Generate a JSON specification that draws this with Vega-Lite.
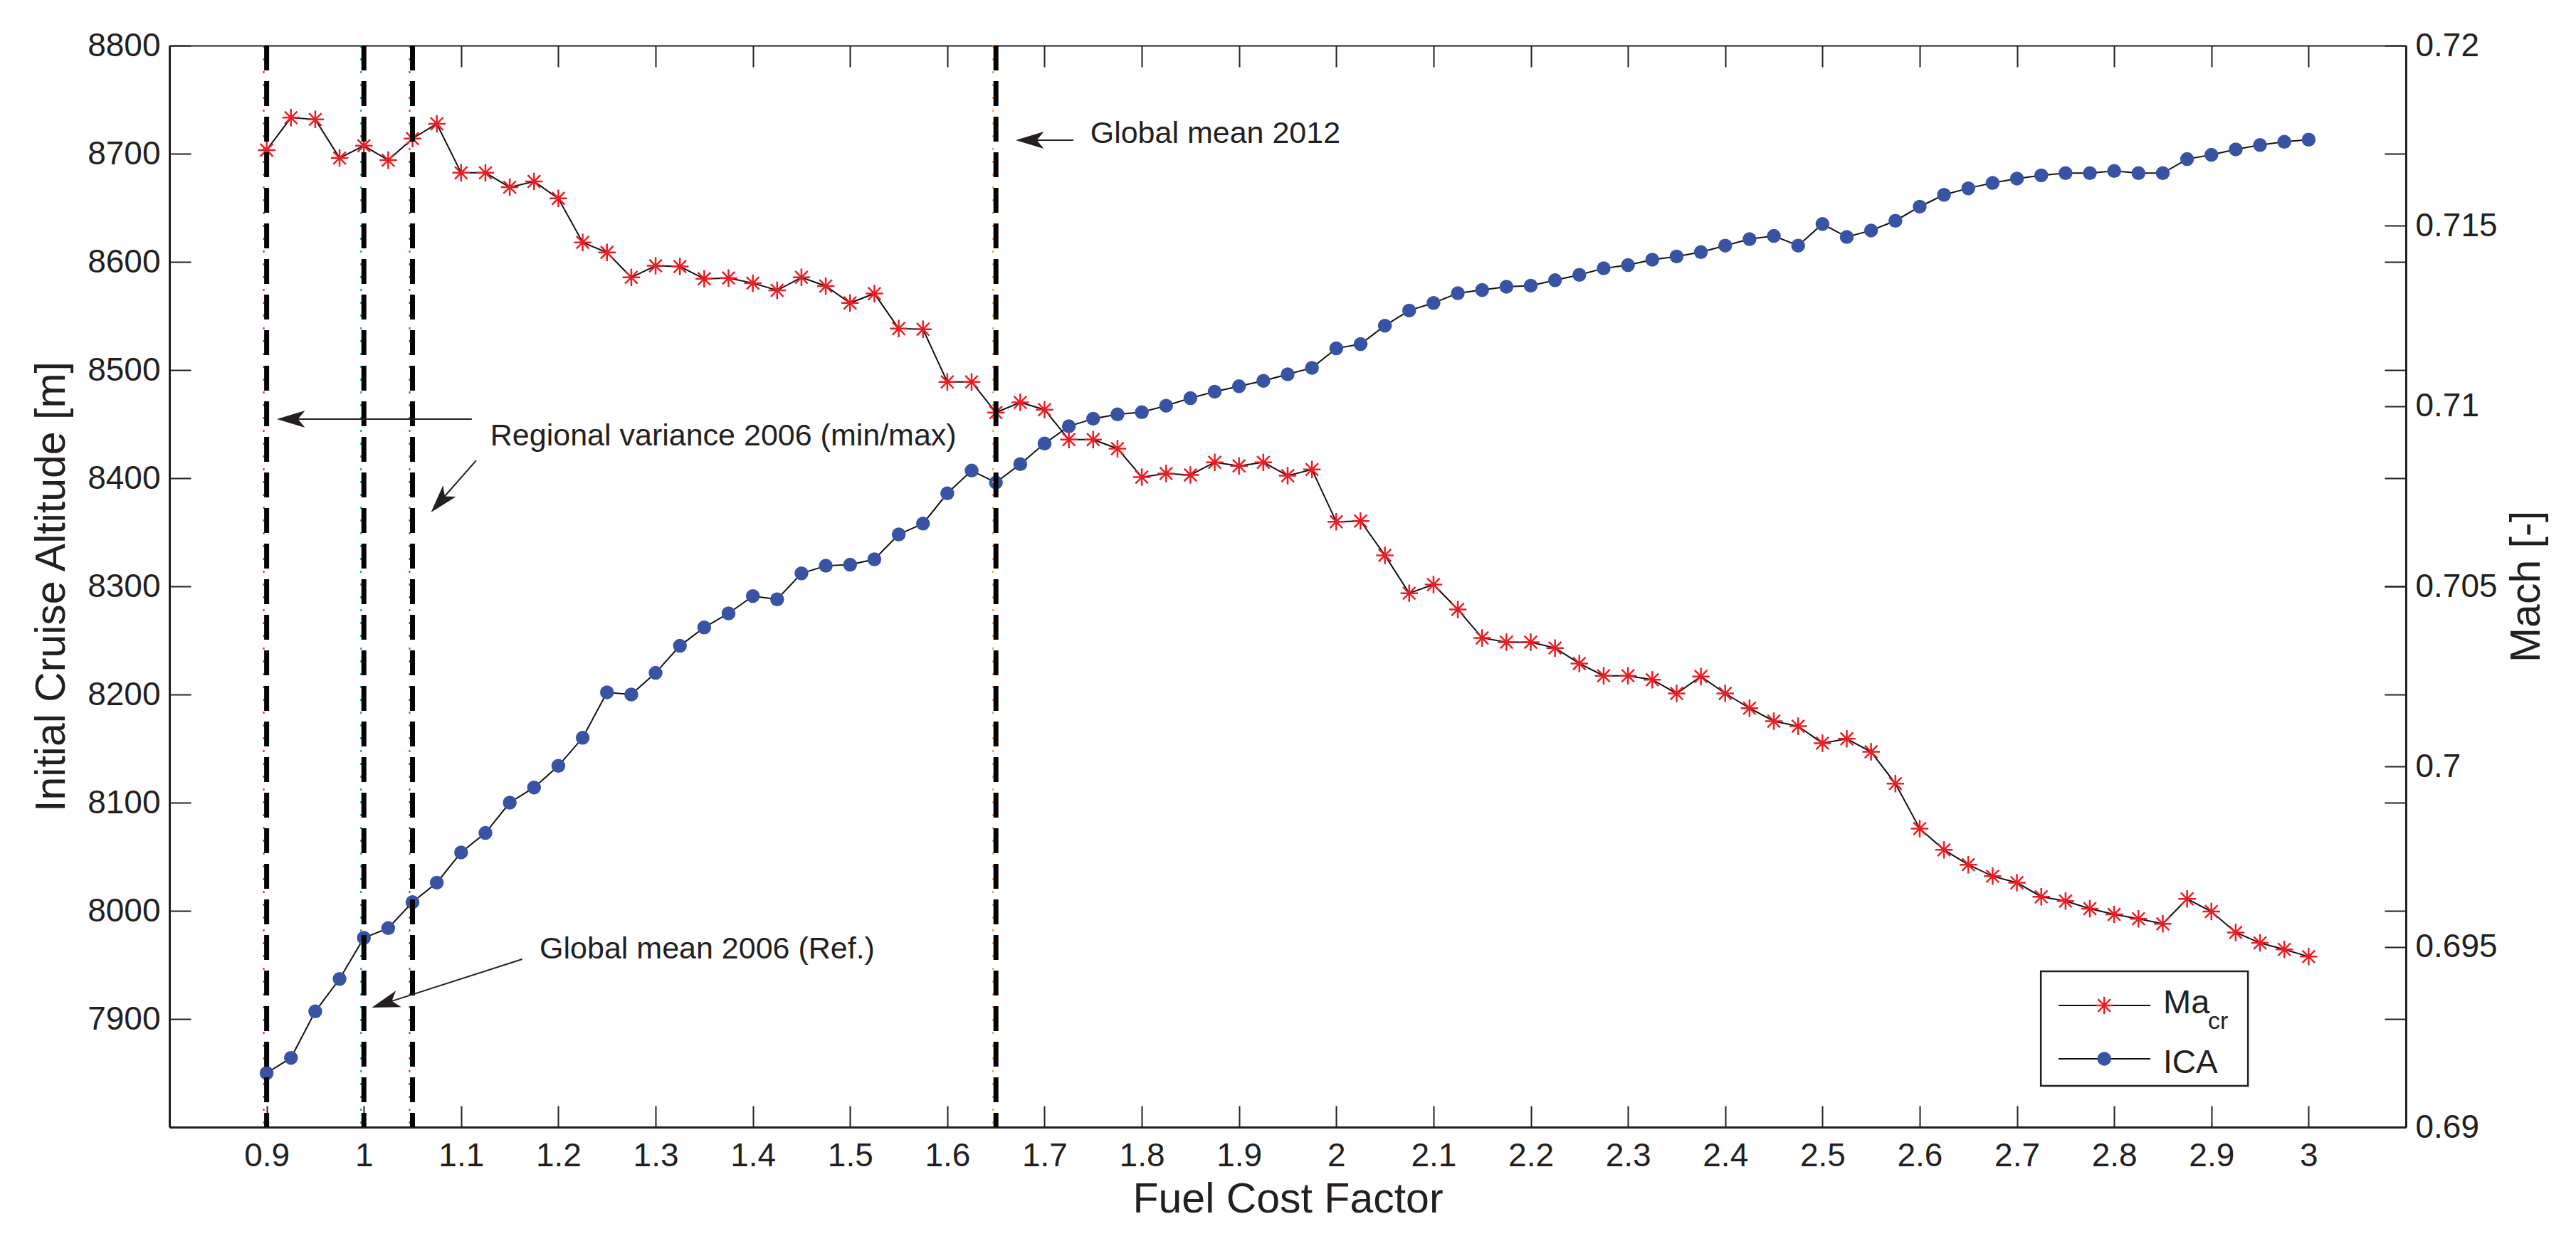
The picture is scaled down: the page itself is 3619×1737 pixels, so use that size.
{
  "$schema": "https://vega.github.io/schema/vega-lite/v6.json",
  "width": 3142,
  "height": 1520,
  "autosize": {"type": "none"},
  "padding": {"left": 238, "top": 64, "right": 239, "bottom": 153},
  "background": "white",
  "config": {
    "view": {"stroke": null},
    "font": "Liberation Sans",
    "axis": {
      "grid": false,
      "labelFont": "Liberation Sans",
      "labelFontSize": 46,
      "labelColor": "#231f20",
      "labelFlush": false,
      "labelOverlap": false,
      "titleFont": "Liberation Sans",
      "titleFontSize": 59,
      "titleFontWeight": "normal",
      "titleColor": "#231f20",
      "tickColor": "#231f20",
      "tickWidth": 2,
      "tickSize": -30,
      "domainColor": "#231f20",
      "domainWidth": 3
    },
    "text": {"font": "Liberation Sans", "color": "#231f20"}
  },
  "datasets": {
    "sweep": [
      {"fuel_cost_factor": 0.9, "ica": 7850, "mach": 0.7171},
      {"fuel_cost_factor": 0.925, "ica": 7864, "mach": 0.718},
      {"fuel_cost_factor": 0.95, "ica": 7907, "mach": 0.71795},
      {"fuel_cost_factor": 0.975, "ica": 7937, "mach": 0.71688},
      {"fuel_cost_factor": 1.0, "ica": 7975, "mach": 0.71722},
      {"fuel_cost_factor": 1.025, "ica": 7984, "mach": 0.71682},
      {"fuel_cost_factor": 1.05, "ica": 8008, "mach": 0.71742},
      {"fuel_cost_factor": 1.075, "ica": 8026, "mach": 0.71783},
      {"fuel_cost_factor": 1.1, "ica": 8054, "mach": 0.71647},
      {"fuel_cost_factor": 1.125, "ica": 8072, "mach": 0.71647},
      {"fuel_cost_factor": 1.15, "ica": 8100, "mach": 0.71607},
      {"fuel_cost_factor": 1.175, "ica": 8114, "mach": 0.71623},
      {"fuel_cost_factor": 1.2, "ica": 8134, "mach": 0.71576},
      {"fuel_cost_factor": 1.225, "ica": 8160, "mach": 0.71454},
      {"fuel_cost_factor": 1.25, "ica": 8202, "mach": 0.71426},
      {"fuel_cost_factor": 1.275, "ica": 8200, "mach": 0.71357},
      {"fuel_cost_factor": 1.3, "ica": 8220, "mach": 0.71389},
      {"fuel_cost_factor": 1.325, "ica": 8245, "mach": 0.71387},
      {"fuel_cost_factor": 1.35, "ica": 8262, "mach": 0.71353},
      {"fuel_cost_factor": 1.375, "ica": 8275, "mach": 0.71355},
      {"fuel_cost_factor": 1.4, "ica": 8291, "mach": 0.71341},
      {"fuel_cost_factor": 1.425, "ica": 8288, "mach": 0.71321},
      {"fuel_cost_factor": 1.45, "ica": 8312, "mach": 0.71357},
      {"fuel_cost_factor": 1.475, "ica": 8319, "mach": 0.71333},
      {"fuel_cost_factor": 1.5, "ica": 8320, "mach": 0.71286},
      {"fuel_cost_factor": 1.525, "ica": 8325, "mach": 0.71312},
      {"fuel_cost_factor": 1.55, "ica": 8348, "mach": 0.71215},
      {"fuel_cost_factor": 1.575, "ica": 8358, "mach": 0.71213},
      {"fuel_cost_factor": 1.6, "ica": 8386, "mach": 0.71067},
      {"fuel_cost_factor": 1.625, "ica": 8407, "mach": 0.71067},
      {"fuel_cost_factor": 1.65, "ica": 8396, "mach": 0.70982},
      {"fuel_cost_factor": 1.675, "ica": 8413, "mach": 0.7101},
      {"fuel_cost_factor": 1.7, "ica": 8432, "mach": 0.7099},
      {"fuel_cost_factor": 1.725, "ica": 8448, "mach": 0.70907},
      {"fuel_cost_factor": 1.75, "ica": 8455, "mach": 0.70907},
      {"fuel_cost_factor": 1.775, "ica": 8459, "mach": 0.70882},
      {"fuel_cost_factor": 1.8, "ica": 8461, "mach": 0.70803},
      {"fuel_cost_factor": 1.825, "ica": 8467, "mach": 0.70813},
      {"fuel_cost_factor": 1.85, "ica": 8474, "mach": 0.70809},
      {"fuel_cost_factor": 1.875, "ica": 8480, "mach": 0.70844},
      {"fuel_cost_factor": 1.9, "ica": 8485, "mach": 0.70834},
      {"fuel_cost_factor": 1.925, "ica": 8490, "mach": 0.70844},
      {"fuel_cost_factor": 1.95, "ica": 8496, "mach": 0.70807},
      {"fuel_cost_factor": 1.975, "ica": 8502, "mach": 0.70824},
      {"fuel_cost_factor": 2.0, "ica": 8520, "mach": 0.70679},
      {"fuel_cost_factor": 2.025, "ica": 8524, "mach": 0.70681},
      {"fuel_cost_factor": 2.05, "ica": 8541, "mach": 0.70586},
      {"fuel_cost_factor": 2.075, "ica": 8555, "mach": 0.70481},
      {"fuel_cost_factor": 2.1, "ica": 8562, "mach": 0.70505},
      {"fuel_cost_factor": 2.125, "ica": 8571, "mach": 0.70436},
      {"fuel_cost_factor": 2.15, "ica": 8574, "mach": 0.70357},
      {"fuel_cost_factor": 2.175, "ica": 8577, "mach": 0.70345},
      {"fuel_cost_factor": 2.2, "ica": 8578, "mach": 0.70345},
      {"fuel_cost_factor": 2.225, "ica": 8583, "mach": 0.70329},
      {"fuel_cost_factor": 2.25, "ica": 8588, "mach": 0.70286},
      {"fuel_cost_factor": 2.275, "ica": 8594, "mach": 0.70252},
      {"fuel_cost_factor": 2.3, "ica": 8597, "mach": 0.70252},
      {"fuel_cost_factor": 2.325, "ica": 8602, "mach": 0.70241},
      {"fuel_cost_factor": 2.35, "ica": 8605, "mach": 0.70203},
      {"fuel_cost_factor": 2.375, "ica": 8609, "mach": 0.7025},
      {"fuel_cost_factor": 2.4, "ica": 8615, "mach": 0.70203},
      {"fuel_cost_factor": 2.425, "ica": 8621, "mach": 0.70162},
      {"fuel_cost_factor": 2.45, "ica": 8624, "mach": 0.70126},
      {"fuel_cost_factor": 2.475, "ica": 8615, "mach": 0.70112},
      {"fuel_cost_factor": 2.5, "ica": 8635, "mach": 0.70065},
      {"fuel_cost_factor": 2.525, "ica": 8623, "mach": 0.70077},
      {"fuel_cost_factor": 2.55, "ica": 8629, "mach": 0.70041},
      {"fuel_cost_factor": 2.575, "ica": 8638, "mach": 0.69953},
      {"fuel_cost_factor": 2.6, "ica": 8651, "mach": 0.69828},
      {"fuel_cost_factor": 2.625, "ica": 8662, "mach": 0.69769},
      {"fuel_cost_factor": 2.65, "ica": 8668, "mach": 0.69728},
      {"fuel_cost_factor": 2.675, "ica": 8673, "mach": 0.69696},
      {"fuel_cost_factor": 2.7, "ica": 8677, "mach": 0.69678},
      {"fuel_cost_factor": 2.725, "ica": 8680, "mach": 0.69639},
      {"fuel_cost_factor": 2.75, "ica": 8682, "mach": 0.69627},
      {"fuel_cost_factor": 2.775, "ica": 8682, "mach": 0.69606},
      {"fuel_cost_factor": 2.8, "ica": 8684, "mach": 0.6959},
      {"fuel_cost_factor": 2.825, "ica": 8682, "mach": 0.69578},
      {"fuel_cost_factor": 2.85, "ica": 8682, "mach": 0.69564},
      {"fuel_cost_factor": 2.875, "ica": 8695, "mach": 0.69633},
      {"fuel_cost_factor": 2.9, "ica": 8699, "mach": 0.69598},
      {"fuel_cost_factor": 2.925, "ica": 8704, "mach": 0.6954},
      {"fuel_cost_factor": 2.95, "ica": 8708, "mach": 0.69511},
      {"fuel_cost_factor": 2.975, "ica": 8711, "mach": 0.69493},
      {"fuel_cost_factor": 3.0, "ica": 8713, "mach": 0.69473}
    ],
    "scenarios": [
      {"fuel_cost_factor": 0.9, "scenario": "Regional min 2006"},
      {"fuel_cost_factor": 1.0, "scenario": "Global mean 2006"},
      {"fuel_cost_factor": 1.05, "scenario": "Regional max 2006"},
      {"fuel_cost_factor": 1.65, "scenario": "Global mean 2012"}
    ]
  },
  "layer": [
    {
      "data": {"name": "sweep"},
      "encoding": {
        "x": {
          "field": "fuel_cost_factor",
          "type": "quantitative",
          "scale": {"domain": [0.8, 3.1], "nice": false, "zero": false},
          "axis": {
            "orient": "bottom",
            "values": [0.9, 1, 1.1, 1.2, 1.3, 1.4, 1.5, 1.6, 1.7, 1.8, 1.9, 2, 2.1, 2.2, 2.3, 2.4, 2.5, 2.6, 2.7, 2.8, 2.9, 3],
            "format": ".1~f",
            "labelPadding": 48,
            "title": "Fuel Cost Factor",
            "titleY": 119,
            "titleBaseline": "alphabetic"
          }
        },
        "y": {
          "field": "ica",
          "type": "quantitative",
          "scale": {"domain": [7800, 8800], "nice": false, "zero": false},
          "axis": {
            "orient": "left",
            "values": [7900, 8000, 8100, 8200, 8300, 8400, 8500, 8600, 8700, 8800],
            "format": "d",
            "labelPadding": 43,
            "title": "Initial Cruise Altitude [m]",
            "titleAngle": 270,
            "titleX": -148,
            "titleY": 760,
            "titleAlign": "center",
            "titleBaseline": "alphabetic"
          }
        }
      },
      "layer": [
        {"mark": {"type": "line", "color": "#111111", "strokeWidth": 2}},
        {"mark": {"type": "point", "shape": "circle", "filled": true, "color": "#3953a4", "opacity": 1, "size": 380}}
      ]
    },
    {
      "data": {"name": "sweep"},
      "encoding": {
        "x": {
          "field": "fuel_cost_factor",
          "type": "quantitative",
          "scale": {"domain": [0.8, 3.1], "nice": false, "zero": false},
          "axis": {
            "orient": "top",
            "values": [0.9, 1, 1.1, 1.2, 1.3, 1.4, 1.5, 1.6, 1.7, 1.8, 1.9, 2, 2.1, 2.2, 2.3, 2.4, 2.5, 2.6, 2.7, 2.8, 2.9, 3],
            "labels": false,
            "title": null,
            "domainWidth": 2
          }
        },
        "y": {
          "field": "mach",
          "type": "quantitative",
          "scale": {"domain": [0.69, 0.72], "nice": false, "zero": false},
          "axis": {
            "orient": "right",
            "values": [0.69, 0.695, 0.7, 0.705, 0.71, 0.715, 0.72],
            "format": ".3~f",
            "labelPadding": 43,
            "title": "Mach [-]",
            "titleAngle": 270,
            "titleX": 187,
            "titleY": 760,
            "titleAlign": "center",
            "titleBaseline": "alphabetic"
          }
        }
      },
      "layer": [
        {"mark": {"type": "line", "color": "#111111", "strokeWidth": 2}},
        {
          "mark": {
            "type": "point",
            "shape": "M-1,0H1M0,-1V1M-0.72,-0.72L0.72,0.72M-0.72,0.72L0.72,-0.72",
            "filled": false,
            "color": "#ed1c24",
            "strokeWidth": 2.5,
            "opacity": 1,
            "size": 600
          }
        }
      ]
    },
    {
      "layer": [
        {
          "data": {"name": "scenarios"},
          "mark": {"type": "rule", "strokeWidth": 2, "strokeDash": [3, 15], "xOffset": -4},
          "encoding": {
            "x": {"field": "fuel_cost_factor", "type": "quantitative", "axis": null},
            "color": {
              "field": "scenario",
              "type": "nominal",
              "scale": {
                "domain": ["Regional min 2006", "Global mean 2006", "Regional max 2006", "Global mean 2012"],
                "range": ["#ed1c24", "#00a651", "#ed1c24", "#f7941d"]
              },
              "legend": null
            }
          }
        },
        {
          "data": {"name": "scenarios"},
          "mark": {"type": "rule", "color": "#050505", "strokeWidth": 7, "strokeDash": [35, 15]},
          "encoding": {
            "x": {"field": "fuel_cost_factor", "type": "quantitative", "axis": null}
          }
        },
        {
          "data": {"values": [{}]},
          "mark": {"type": "rect", "fill": "white", "stroke": "#231f20", "strokeWidth": 2.5},
          "encoding": {
            "x": {"datum": 2.7246, "type": "quantitative", "axis": null},
            "x2": {"datum": 2.9376},
            "y": {
              "datum": 7944.1,
              "type": "quantitative",
              "scale": {"domain": [7800, 8800], "nice": false, "zero": false},
              "axis": {
                "orient": "right",
                "values": [7900, 8000, 8100, 8200, 8300, 8400, 8500, 8600, 8700],
                "labels": false,
                "domain": false,
                "title": null
              }
            },
            "y2": {"datum": 7838.2}
          }
        },
        {
          "data": {"values": [{}]},
          "mark": {"type": "rule", "color": "#111111", "strokeWidth": 2},
          "encoding": {
            "x": {"datum": 2.7427, "type": "quantitative", "axis": null},
            "x2": {"datum": 2.8373},
            "y": {"datum": 7912.5, "type": "quantitative"}
          }
        },
        {
          "data": {"values": [{}]},
          "mark": {"type": "rule", "color": "#111111", "strokeWidth": 2},
          "encoding": {
            "x": {"datum": 2.7427, "type": "quantitative", "axis": null},
            "x2": {"datum": 2.8373},
            "y": {"datum": 7863.2, "type": "quantitative"}
          }
        },
        {
          "data": {"values": [{}]},
          "mark": {
            "type": "point",
            "shape": "M-1,0H1M0,-1V1M-0.72,-0.72L0.72,0.72M-0.72,0.72L0.72,-0.72",
            "filled": false,
            "color": "#ed1c24",
            "strokeWidth": 2.5,
            "opacity": 1,
            "size": 600
          },
          "encoding": {
            "x": {"datum": 2.7898, "type": "quantitative", "axis": null},
            "y": {"datum": 7912.5, "type": "quantitative"}
          }
        },
        {
          "data": {"values": [{}]},
          "mark": {"type": "point", "shape": "circle", "filled": true, "color": "#3953a4", "opacity": 1, "size": 380},
          "encoding": {
            "x": {"datum": 2.7898, "type": "quantitative", "axis": null},
            "y": {"datum": 7863.2, "type": "quantitative"}
          }
        },
        {
          "data": {"values": [{}]},
          "mark": {"type": "text", "text": "Ma", "align": "left", "baseline": "alphabetic", "fontSize": 47},
          "encoding": {
            "x": {"datum": 2.8504, "type": "quantitative", "axis": null},
            "y": {"datum": 7905.3, "type": "quantitative"}
          }
        },
        {
          "data": {"values": [{}]},
          "mark": {"type": "text", "text": "cr", "align": "left", "baseline": "alphabetic", "fontSize": 34},
          "encoding": {
            "x": {"datum": 2.8965, "type": "quantitative", "axis": null},
            "y": {"datum": 7890.8, "type": "quantitative"}
          }
        },
        {
          "data": {"values": [{}]},
          "mark": {"type": "text", "text": "ICA", "align": "left", "baseline": "alphabetic", "fontSize": 46},
          "encoding": {
            "x": {"datum": 2.8504, "type": "quantitative", "axis": null},
            "y": {"datum": 7850, "type": "quantitative"}
          }
        },
        {
          "data": {"values": [{}]},
          "mark": {"type": "text", "text": "Global mean 2012", "align": "left", "baseline": "middle", "fontSize": 43},
          "encoding": {
            "x": {"datum": 1.747, "type": "quantitative", "axis": null},
            "y": {"datum": 8718.5, "type": "quantitative"}
          }
        },
        {
          "data": {"values": [{}]},
          "mark": {"type": "text", "text": "Regional variance 2006 (min/max)", "align": "left", "baseline": "middle", "fontSize": 43},
          "encoding": {
            "x": {"datum": 1.13, "type": "quantitative", "axis": null},
            "y": {"datum": 8438.8, "type": "quantitative"}
          }
        },
        {
          "data": {"values": [{}]},
          "mark": {"type": "text", "text": "Global mean 2006 (Ref.)", "align": "left", "baseline": "middle", "fontSize": 43},
          "encoding": {
            "x": {"datum": 1.1807, "type": "quantitative", "axis": null},
            "y": {"datum": 7964.8, "type": "quantitative"}
          }
        },
        {
          "data": {"values": [{}]},
          "mark": {"type": "rule", "color": "#231f20", "strokeWidth": 2},
          "encoding": {
            "x": {"datum": 1.7297, "type": "quantitative", "axis": null},
            "x2": {"datum": 1.68},
            "y": {"datum": 8712.5, "type": "quantitative"}
          }
        },
        {
          "data": {"values": [{}]},
          "mark": {"type": "rule", "color": "#231f20", "strokeWidth": 2},
          "encoding": {
            "x": {"datum": 1.111, "type": "quantitative", "axis": null},
            "x2": {"datum": 0.92},
            "y": {"datum": 8454.6, "type": "quantitative"}
          }
        },
        {
          "data": {"values": [{}]},
          "mark": {"type": "rule", "color": "#231f20", "strokeWidth": 2},
          "encoding": {
            "x": {"datum": 1.1155, "type": "quantitative", "axis": null},
            "x2": {"datum": 1.075},
            "y": {"datum": 8416.4, "type": "quantitative"},
            "y2": {"datum": 8375}
          }
        },
        {
          "data": {"values": [{}]},
          "mark": {"type": "rule", "color": "#231f20", "strokeWidth": 2},
          "encoding": {
            "x": {"datum": 1.1628, "type": "quantitative", "axis": null},
            "x2": {"datum": 1.018},
            "y": {"datum": 7955.3, "type": "quantitative"},
            "y2": {"datum": 7913.4}
          }
        },
        {
          "data": {"values": [{}]},
          "mark": {"type": "point", "shape": "M0,0L-1.8,-0.55L-1.35,0L-1.8,0.55Z", "filled": true, "color": "#231f20", "opacity": 1, "size": 1936, "angle": 180},
          "encoding": {
            "x": {"datum": 1.6703, "type": "quantitative", "axis": null},
            "y": {"datum": 8712.5, "type": "quantitative"}
          }
        },
        {
          "data": {"values": [{}]},
          "mark": {"type": "point", "shape": "M0,0L-1.8,-0.55L-1.35,0L-1.8,0.55Z", "filled": true, "color": "#231f20", "opacity": 1, "size": 1936, "angle": 180},
          "encoding": {
            "x": {"datum": 0.9105, "type": "quantitative", "axis": null},
            "y": {"datum": 8454.6, "type": "quantitative"}
          }
        },
        {
          "data": {"values": [{}]},
          "mark": {"type": "point", "shape": "M0,0L-1.8,-0.55L-1.35,0L-1.8,0.55Z", "filled": true, "color": "#231f20", "opacity": 1, "size": 1936, "angle": 131},
          "encoding": {
            "x": {"datum": 1.069, "type": "quantitative", "axis": null},
            "y": {"datum": 8368.4, "type": "quantitative"}
          }
        },
        {
          "data": {"values": [{}]},
          "mark": {"type": "point", "shape": "M0,0L-1.8,-0.55L-1.35,0L-1.8,0.55Z", "filled": true, "color": "#231f20", "opacity": 1, "size": 1936, "angle": 162},
          "encoding": {
            "x": {"datum": 1.0081, "type": "quantitative", "axis": null},
            "y": {"datum": 7910.5, "type": "quantitative"}
          }
        }
      ]
    }
  ],
  "resolve": {"scale": {"y": "independent"}, "axis": {"x": "independent"}}
}
